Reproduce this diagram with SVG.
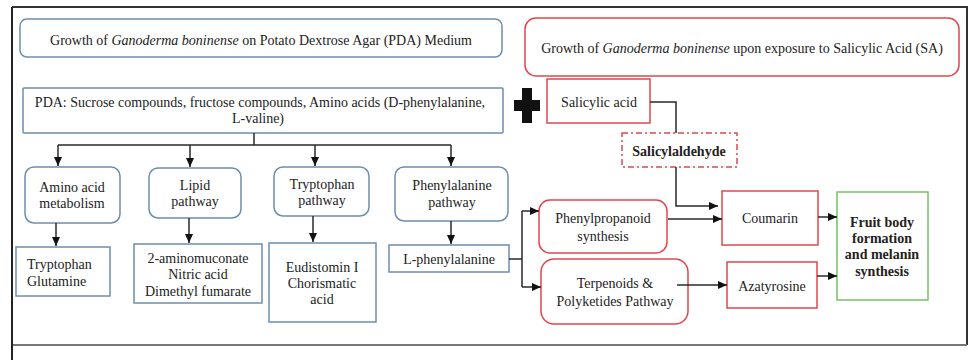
<svg xmlns="http://www.w3.org/2000/svg" width="971" height="360" viewBox="0 0 971 360" font-family="'Liberation Serif', 'DejaVu Serif', serif">
<defs>
<style>
text{font-family:'Liberation Serif','DejaVu Serif',serif;font-size:14px;fill:#222;text-anchor:middle}
.b{font-weight:bold}
.it{font-style:italic}
.blue{fill:#fff;stroke:#6d8db0;stroke-width:1.5}
.red{fill:#fff;stroke:#e0474c;stroke-width:1.5}
.green{fill:#fff;stroke:#79bf6a;stroke-width:1.5}
.dash{fill:#fff;stroke:#e0474c;stroke-width:1.5;stroke-dasharray:6 3 2 3}
.ln{fill:none;stroke:#2a2a2a;stroke-width:1.5}
</style>
<marker id="ah" markerUnits="userSpaceOnUse" markerWidth="9" markerHeight="8" refX="9" refY="4" orient="auto">
<path d="M0,0 L9,4 L0,8 z" fill="#111"/>
</marker>
</defs>
<rect x="0" y="0" width="971" height="360" fill="#fff"/>
<g id="frame">
<path d="M12,7 H967 V345" fill="none" stroke="#333" stroke-width="2"/>
<line x1="12" y1="345" x2="967" y2="345" stroke="#777" stroke-width="2"/>
<line x1="12" y1="7" x2="12" y2="360" stroke="#222" stroke-width="2"/>
</g>
<g id="header-pda">
<rect class="blue" x="20" y="19" width="482" height="38" rx="7"/>
<text x="261" y="45">Growth of <tspan class="it">Ganoderma boninense</tspan> on Potato Dextrose Agar (PDA) Medium</text>
</g>
<g id="header-sa">
<rect class="red" x="525" y="18" width="434" height="58" rx="11"/>
<text x="742" y="53">Growth of <tspan class="it">Ganoderma boninense</tspan> upon exposure to Salicylic Acid (SA)</text>
</g>
<g id="pda">
<rect class="blue" x="23" y="88" width="480" height="45" rx="1"/>
<text x="260" y="107">PDA: Sucrose compounds, fructose compounds, Amino acids (D-phenylalanine,</text>
<text x="258" y="123">L-valine)</text>
</g>
<g id="plus">
<rect x="522" y="88" width="10" height="35" fill="#111"/>
<rect x="514" y="100" width="26" height="11" fill="#111"/>
</g>
<g id="salicylic-acid">
<rect class="red" x="547" y="79" width="103" height="44"/>
<text x="599" y="107">Salicylic acid</text>
</g>
<g id="salicylaldehyde">
<rect class="dash" x="622" y="133" width="115" height="34"/>
<text class="b" x="679" y="156">Salicylaldehyde</text>
</g>
<g id="amino">
<rect class="blue" x="25" y="167" width="95" height="56" rx="9"/>
<text x="72" y="192">Amino acid</text>
<text x="72" y="208">metabolism</text>
</g>
<g id="lipid">
<rect class="blue" x="149" y="168" width="92" height="50" rx="9"/>
<text x="195" y="190">Lipid</text>
<text x="195" y="206">pathway</text>
</g>
<g id="tryptophan">
<rect class="blue" x="274" y="167" width="95" height="49" rx="9"/>
<text x="322" y="189">Tryptophan</text>
<text x="322" y="205">pathway</text>
</g>
<g id="phenylalanine">
<rect class="blue" x="395" y="167" width="113" height="54" rx="9"/>
<text x="452" y="190">Phenylalanine</text>
<text x="452" y="207">pathway</text>
</g>
<g id="trp-gln">
<rect class="blue" x="16" y="247" width="94" height="49"/>
<text x="27" y="269" style="text-anchor:start">Tryptophan</text>
<text x="27" y="286" style="text-anchor:start">Glutamine</text>
</g>
<g id="lipid-products">
<rect class="blue" x="134" y="244" width="128" height="59"/>
<text x="198" y="263">2-aminomuconate</text>
<text x="198" y="279">Nitric acid</text>
<text x="198" y="296">Dimethyl fumarate</text>
</g>
<g id="trp-products">
<rect class="blue" x="269" y="243" width="107" height="79"/>
<text x="322" y="272">Eudistomin I</text>
<text x="322" y="288">Chorismatic</text>
<text x="322" y="304">acid</text>
</g>
<g id="l-phe">
<rect class="blue" x="389" y="245" width="120" height="27"/>
<text x="449" y="264">L-phenylalanine</text>
</g>
<g id="phenylpropanoid">
<rect class="red" x="539" y="200" width="128" height="53" rx="11"/>
<text x="603" y="223">Phenylpropanoid</text>
<text x="603" y="241">synthesis</text>
</g>
<g id="terpenoids">
<rect class="red" x="541" y="259" width="147" height="65" rx="13"/>
<text x="615" y="288">Terpenoids &amp;</text>
<text x="615" y="306">Polyketides Pathway</text>
</g>
<g id="coumarin">
<rect class="red" x="722" y="191" width="96" height="54"/>
<text x="770" y="223">Coumarin</text>
</g>
<g id="azatyrosine">
<rect class="red" x="727" y="262" width="90" height="46"/>
<text x="772" y="291">Azatyrosine</text>
</g>
<g id="fruit-body">
<rect class="green" x="837" y="192" width="91" height="108"/>
<text class="b" x="882" y="227">Fruit body</text>
<text class="b" x="882" y="243">formation</text>
<text class="b" x="882" y="259">and melanin</text>
<text class="b" x="882" y="276">synthesis</text>
</g>
<g id="connectors">
<path class="ln" d="M254,133 V145 M58,145 H451"/>
<path class="ln" d="M58,145 V166" marker-end="url(#ah)"/>
<path class="ln" d="M190,145 V167" marker-end="url(#ah)"/>
<path class="ln" d="M315,145 V166" marker-end="url(#ah)"/>
<path class="ln" d="M451,145 V166" marker-end="url(#ah)"/>
<path class="ln" d="M56,223 V246" marker-end="url(#ah)"/>
<path class="ln" d="M189,218 V243" marker-end="url(#ah)"/>
<path class="ln" d="M313,216 V242" marker-end="url(#ah)"/>
<path class="ln" d="M451,221 V244" marker-end="url(#ah)"/>
<path class="ln" d="M509,259 H522 M522,211 V287"/>
<path class="ln" d="M522,211 H539" marker-end="url(#ah)"/>
<path class="ln" d="M522,287 H541" marker-end="url(#ah)"/>
<path class="ln" d="M650,102 H676 V133"/>
<path class="ln" d="M676,167 V206 H718" marker-end="url(#ah)"/>
<path class="ln" d="M668,219 H722" marker-end="url(#ah)"/>
<path class="ln" d="M677,285 H727" marker-end="url(#ah)"/>
<path class="ln" d="M818,217 H837" marker-end="url(#ah)"/>
<path class="ln" d="M817,276 H837" marker-end="url(#ah)"/>
</g>
</svg>
